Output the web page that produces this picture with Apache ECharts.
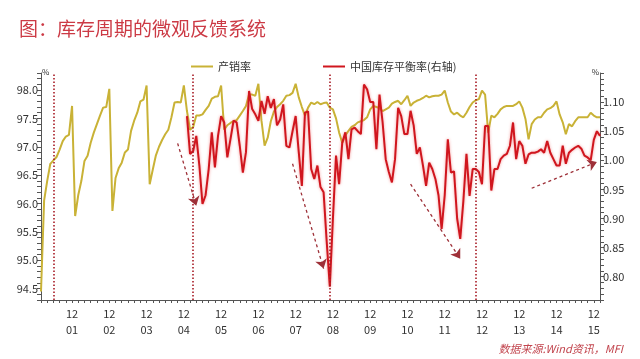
<!DOCTYPE html>
<html><head><meta charset="utf-8">
<script src="https://cdn.jsdelivr.net/npm/echarts@6/dist/echarts.min.js"></script>
<style>html,body{margin:0;padding:0;background:#fff}#c{width:640px;height:359px}</style>
</head><body><div id="c"></div>
<script>
// Monthly categories: 2001-02 .. 2016-02
const startYear = 2001, startMonth = 2, monthCount = 181;
const categories = [];
for (let k = 0; k < monthCount; k++) {
  const m0 = startMonth - 1 + k;
  const y = startYear + Math.floor(m0 / 12), m = m0 % 12 + 1;
  categories.push(y + '-' + (m < 10 ? '0' : '') + m);
}

// 产销率 (left axis, %)
const salesRatio = [
  94.45, 96.05, 96.40, 96.70, 96.76, 96.82, 96.95, 97.10, 97.18, 97.21,
  97.72, 95.78, 96.15, 96.40, 96.75, 96.84, 97.07, 97.25, 97.40, 97.55,
  97.69, 97.70, 98.02, 95.87, 96.45, 96.62, 96.72, 96.90, 96.95, 97.28,
  97.46, 97.60, 97.80, 97.83, 98.08, 96.34, 96.60, 96.85, 97.00, 97.12,
  97.22, 97.30, 97.52, 97.78, 97.79, 97.78, 98.08, 97.63, 97.30, 97.35,
  97.55, 97.55, 97.57, 97.65, 97.72, 97.85, 97.88, 97.89, 98.08, 97.30,
  97.38, 97.42, 97.45, 97.47, 97.55, 97.63, 97.72, 97.92, 97.92, 97.90,
  98.11, 97.46, 97.02, 97.16, 97.45, 97.62, 97.70, 97.75, 97.81, 97.90,
  97.91, 97.95, 98.11, 97.87, 97.70, 97.55, 97.69, 97.78, 97.75, 97.79,
  97.75, 97.77, 97.78, 97.69, 97.66, 97.50, 97.25, 97.07, 97.20, 97.28,
  97.35, 97.38, 97.43, 97.45, 97.47, 97.52, 97.66, 97.72, 97.70, 97.68,
  97.63, 97.66, 97.69, 97.76, 97.79, 97.81, 97.75, 97.82, 97.90, 97.72,
  97.78, 97.81, 97.83, 97.86, 97.90, 97.87, 97.89, 97.90, 97.90, 97.92,
  97.99, 97.78, 97.62, 97.57, 97.60, 97.55, 97.52, 97.60, 97.70, 97.78,
  97.82, 97.84, 97.99, 97.92, 97.25, 97.55, 97.52, 97.58, 97.66, 97.70,
  97.72, 97.72, 97.72, 97.75, 97.80, 97.69, 97.49, 97.13, 97.40, 97.48,
  97.52, 97.52, 97.60, 97.66, 97.68, 97.72, 97.80, 97.57, 97.43, 97.22,
  97.40, 97.36, 97.45, 97.52, 97.52, 97.52, 97.52, 97.60, 97.55, 97.52, 97.52
];

// 中国库存平衡率 (right axis), starts 2005-01 (index 47)
const balanceStartIndex = 47;
const balanceValues = [
  1.076, 1.011, 1.016, 1.042, 0.991, 0.925, 0.940, 0.985, 1.048, 0.988,
  1.042, 1.076, 1.065, 1.005, 1.036, 1.068, 1.065, 1.025, 0.979, 1.014,
  1.119, 1.088, 1.079, 1.068, 1.102, 1.080, 1.110, 1.090, 1.105, 1.060,
  1.070, 1.096, 1.025, 1.022, 1.050, 1.076, 1.014, 0.956, 1.082, 1.084,
  0.985, 0.968, 0.991, 0.954, 0.945, 0.860, 0.783, 0.900, 1.008, 0.959,
  1.030, 1.048, 1.002, 1.053, 1.056, 1.050, 1.045, 1.130, 1.122, 1.100,
  1.100, 1.019, 1.113, 1.065, 1.002, 0.980, 0.962, 1.002, 1.090, 1.076,
  1.045, 1.045, 1.085, 1.060, 1.011, 1.022, 0.991, 0.956, 0.996, 0.985,
  0.968, 0.940, 0.882, 0.940, 1.036, 0.979, 0.981, 0.900, 0.865, 0.930,
  1.011, 0.939, 0.985, 0.985, 0.980, 0.959, 1.059, 1.059, 0.948, 0.985,
  0.985, 1.002, 1.008, 1.011, 1.025, 1.065, 1.002, 1.033, 1.025, 0.994,
  1.010, 1.013, 1.013, 1.015, 1.019, 1.013, 1.033, 1.013, 1.002, 0.991,
  0.991, 1.025, 0.994, 1.013, 1.018, 1.022, 1.025, 1.020, 1.008, 1.005,
  1.000, 1.035, 1.050, 1.042
];
const balanceRatio = Array(balanceStartIndex).fill(null).concat(balanceValues);

// Annotation positions (category index, right-axis value)
const cycleLines = [4, 49, 93, 140];
const arrowStarts = [[44, 1.029], [81, 0.994], [119, 0.959], [158, 0.952]];
const arrowEnds   = [[50, 0.922], [91, 0.814], [135, 0.831], [179, 0.997]];

const FONT = '"Noto Sans CJK SC", "Noto Sans", sans-serif';
const chart = echarts.init(document.getElementById('c'), null, {renderer: 'canvas'});

const markData = cycleLines.map(i => ({xAxis: categories[i]}));
arrowStarts.forEach((s, k) => {
  const e = arrowEnds[k];
  markData.push([
    {coord: [categories[s[0]], s[1]], symbol: 'none',
     lineStyle: {type: [3, 3], color: '#9E3038', width: 1.3}},
    {coord: [categories[e[0]], e[1]], symbol: 'arrow', symbolSize: 9}
  ]);
});

const option = {
  animation: false,
  textStyle: {fontFamily: FONT},
  title: [
    {text: '图：库存周期的微观反馈系统', left: 14, top: 14,
     textStyle: {color: '#CC3A45', fontSize: 19, fontWeight: 'normal', fontFamily: FONT}},
    {text: '数据来源:Wind资讯，MFI', right: 12, bottom: 0,
     textStyle: {color: '#C2454E', fontSize: 11, fontStyle: 'italic', fontWeight: 'normal', fontFamily: FONT}}
  ],
  legend: {
    left: 186, top: 56, itemWidth: 22, itemHeight: 2, itemGap: 72, icon: 'rect',
    textStyle: {fontSize: 11, color: '#333', fontFamily: FONT},
    data: ['产销率', '中国库存平衡率(右轴)']
  },
  grid: {left: 41, right: 40, top: 73, bottom: 59},
  xAxis: {
    type: 'category', data: categories, boundaryGap: false,
    axisLine: {lineStyle: {color: '#555', width: 1}},
    axisTick: {interval: (i) => (i + 2) % 2 === 0, length: 3, lineStyle: {color: '#555'}},
    axisLabel: {
      interval: (i) => (i + 2) % 12 === 0,
      formatter: (v) => v.slice(5, 7) + '\n' + v.slice(2, 4),
      color: '#333', fontSize: 11, lineHeight: 16, margin: 6, hideOverlap: false
    },
    splitLine: {show: false}
  },
  yAxis: [
    {
      type: 'value', min: 94.3, max: 98.3, interval: 0.1, position: 'left',
      name: '%', nameLocation: 'end', nameGap: -3,
      nameTextStyle: {fontSize: 8, color: '#333', align: 'left', padding: [0, 0, 0, 1]},
      axisLine: {show: true, lineStyle: {color: '#555'}},
      axisTick: {show: true, length: 4, lineStyle: {color: '#555'}},
      splitLine: {show: false},
      axisLabel: {
        formatter: (v) => { const r = Math.round(v * 2) / 2; return Math.abs(v - r) < 1e-6 ? r.toFixed(1) : ''; },
        margin: 3, color: '#333', fontSize: 11
      }
    },
    {
      type: 'value', min: 0.76, max: 1.15, interval: 0.01, position: 'right',
      name: '%', nameLocation: 'end', nameGap: -3,
      nameTextStyle: {fontSize: 8, color: '#333', align: 'right', padding: [0, 1, 0, 0]},
      axisLine: {show: true, lineStyle: {color: '#555'}},
      axisTick: {show: true, length: 4, lineStyle: {color: '#555'}},
      splitLine: {show: false},
      axisLabel: {
        formatter: (v) => { const r = Math.round(v * 20) / 20; return (Math.abs(v - r) < 1e-6 && v < 1.12) ? r.toFixed(2) : ''; },
        margin: 3, color: '#333', fontSize: 11
      }
    }
  ],
  series: [
    {
      name: '产销率', type: 'line', yAxisIndex: 0, data: salesRatio,
      showSymbol: false, symbol: 'none',
      lineStyle: {color: '#C9B236', width: 2},
      itemStyle: {color: '#C9B236'}, z: 2
    },
    {
      name: '中国库存平衡率(右轴)', type: 'line', yAxisIndex: 1, data: balanceRatio,
      showSymbol: false, symbol: 'none', smooth: false,
      lineStyle: {color: '#D0161E', width: 2, shadowColor: 'rgba(235,70,70,0.55)', shadowBlur: 3},
      itemStyle: {color: '#D0161E'}, z: 3,
      markLine: {
        silent: true, symbol: ['none', 'none'], label: {show: false},
        emphasis: {disabled: true},
        lineStyle: {color: '#A81C26', type: [1.5, 2], width: 1.6},
        itemStyle: {color: '#A81C26'},
        data: markData
      }
    }
  ]
};
chart.setOption(option);
</script>
</body></html>
